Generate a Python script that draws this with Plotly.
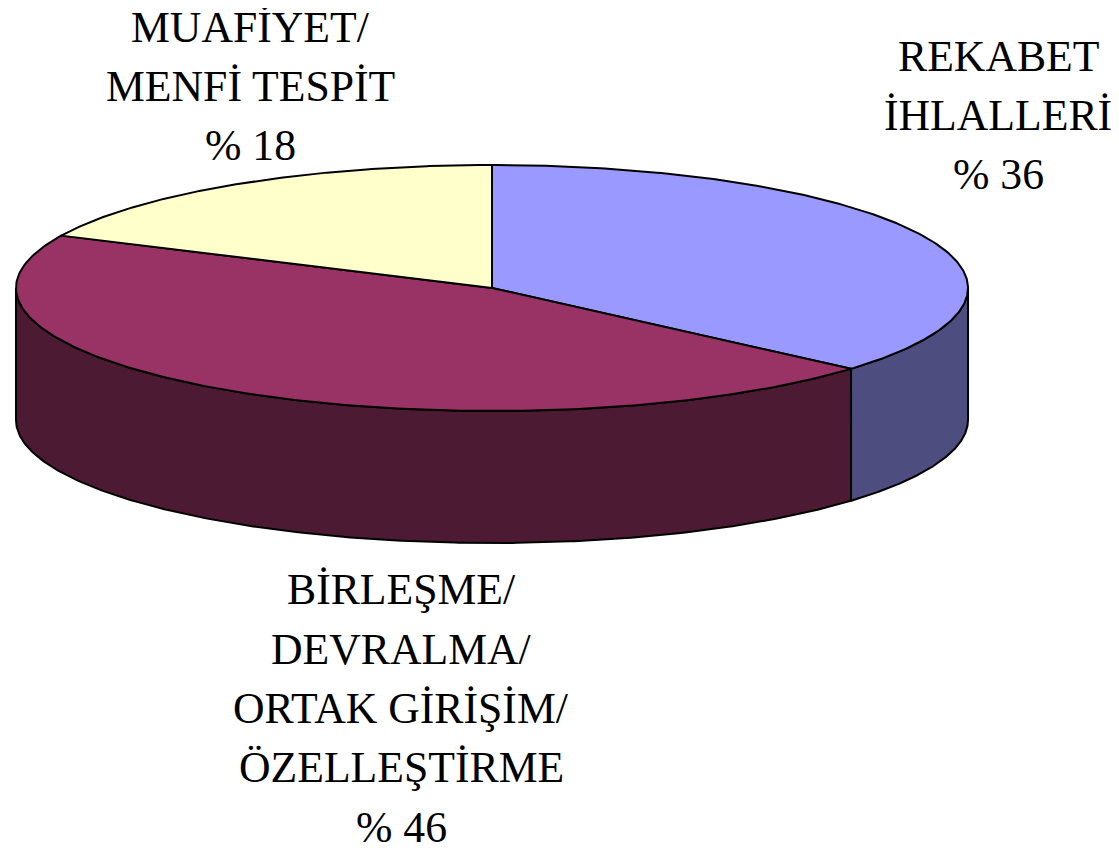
import numpy as np
import plotly.graph_objects as go

# ---- data
categories = ["REKABET<br>İHLALLERİ<br>% 36",
              "BİRLEŞME/<br>DEVRALMA/<br>ORTAK GİRİŞİM/<br>ÖZELLEŞTİRME<br>% 46",
              "MUAFİYET/<br>MENFİ TESPİT<br>% 18"]
values = [36.4, 45.6, 18.0]
top_colors = ["#9999FF", "#993366", "#FFFFCC"]
side_colors = ["#4D4D80", "#4D1A33", "#808066"]
label_x = [998, 401, 250]
label_y = [115, 708, 86]

# ---- pie geometry in the axis' own units
CX, CY, RX, RY, DEPTH = 492, 288, 476, 123, 132
LINE_STEP = 59.3
OFFSET = 8  # the page's body margin shifts the figure by this much


def rim(a0, a1, n=240):
    t = np.radians(np.linspace(a0, a1, n))
    return CX + RX * np.sin(t), CY - RY * np.cos(t)


fig = go.Figure()
line = dict(color="black", width=2)
edges = np.concatenate([[0], np.cumsum(values) / sum(values) * 360])

# side walls: only the front half of the ellipse (90..270 deg) is visible
for i in range(len(values)):
    a0, a1 = max(edges[i], 90), min(edges[i + 1], 270)
    if a1 <= a0:
        continue
    x, y = rim(a0, a1)
    fig.add_trace(go.Scatter(
        x=np.concatenate([x, x[::-1], x[:1]]),
        y=np.concatenate([y, y[::-1] + DEPTH, y[:1]]),
        mode="lines", fill="toself", fillcolor=side_colors[i], line=line,
        hoverinfo="skip", showlegend=False))

# top faces
for i in range(len(values)):
    x, y = rim(edges[i], edges[i + 1])
    fig.add_trace(go.Scatter(
        x=np.concatenate([[CX], x, [CX]]),
        y=np.concatenate([[CY], y, [CY]]),
        mode="lines", fill="toself", fillcolor=top_colors[i], line=line,
        hoverinfo="skip", showlegend=False))

# one annotation per text line, to get the reference's wide line spacing
for text, lx, ly in zip(categories, label_x, label_y):
    rows = text.split("<br>")
    for k, row in enumerate(rows):
        fig.add_annotation(x=lx, y=ly + (k - (len(rows) - 1) / 2) * LINE_STEP,
                           text=row, showarrow=False, xref="x", yref="y",
                           align="center", xanchor="center", yanchor="middle",
                           font=dict(family="Liberation Serif", size=43.7, color="black"))

fig.update_layout(
    width=1119, height=850, margin=dict(l=0, r=0, t=0, b=0),
    paper_bgcolor="white", plot_bgcolor="white", showlegend=False,
    xaxis=dict(range=[OFFSET, 1119 + OFFSET], visible=False, fixedrange=True),
    yaxis=dict(range=[850 + OFFSET, OFFSET], visible=False, fixedrange=True),
)
fig.write_html("out.html", config=dict(displayModeBar=False))
